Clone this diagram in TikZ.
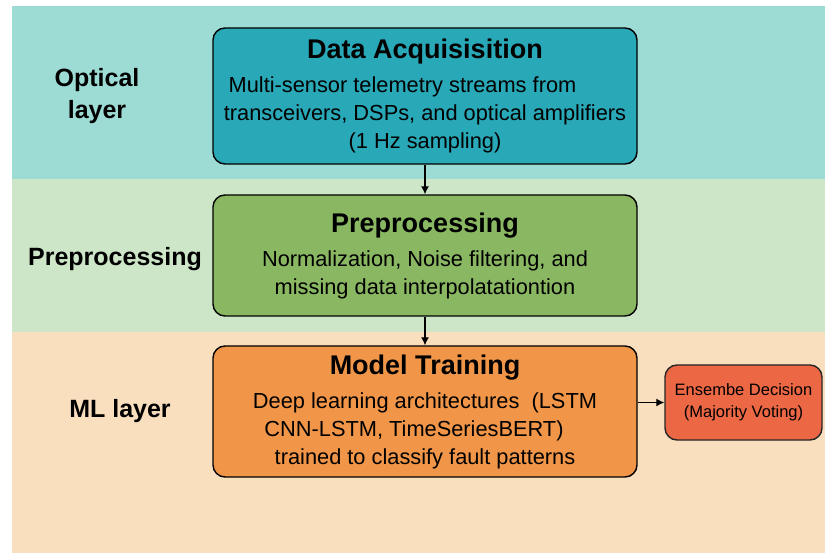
\documentclass[tikz,border=0pt]{standalone}
\usepackage{fontspec}
\setmainfont{Liberation Sans}
\usetikzlibrary{arrows.meta,positioning}
\definecolor{OpticalBand}{RGB}{157,220,213}
\definecolor{PrepBand}{RGB}{206,230,200}
\definecolor{MLBand}{RGB}{250,223,190}
\definecolor{AcqFill}{RGB}{41,168,184}
\definecolor{PrepFill}{RGB}{138,184,98}
\definecolor{TrainFill}{RGB}{241,150,72}
\definecolor{VoteFill}{RGB}{236,103,68}
\newcommand{\stagetitle}[1]{{\fontsize{27}{31}\selectfont\bfseries #1}\\[6pt]}
\newcommand{\padline}[2]{\hbox{#1\kern #2}}
\tikzset{
  >=Latex,
  stage/.style={draw=black,line width=1.4pt,rounded corners=12pt,align=center,text=black,font=\fontsize{21.8}{28}\selectfont,minimum width=424pt,inner sep=0pt},
  vote/.style={draw=black!85,line width=1.4pt,rounded corners=12pt,fill=VoteFill,align=center,text=black,font=\fontsize{16.5}{22}\selectfont,minimum width=157pt,minimum height=75pt,inner sep=0pt},
  layerlabel/.style={font=\fontsize{25}{32}\selectfont\bfseries,text=black,align=center},
  link/.style={-{Latex[length=8pt,width=8pt]},line width=1.2pt,draw=black}
}

\begin{document}
\begin{tikzpicture}[x=1pt,y=-1pt]
  \useasboundingbox (0,0) rectangle (825,553);
  \fill[white] (0,0) rectangle (825,553);
  % layer bands
  \fill[OpticalBand] (12,6) rectangle (825,179);
  \fill[PrepBand] (12,179) rectangle (825,332);
  \fill[MLBand] (12,332) rectangle (825,553);
  \node[layerlabel] (optlbl) at (97,96) {Optical\\layer};
  \node[layerlabel] (preplbl) at (115,259) {Preprocessing};
  \node[layerlabel] (mllbl) at (120,411) {ML layer};
  % pipeline
  \node[stage,fill=AcqFill,minimum height=136pt] (acq) at (425,96) {\stagetitle{Data Acquisisition}\padline{Multi-sensor telemetry streams from}{45pt}\\transceivers, DSPs, and optical amplifiers\\(1 Hz sampling)};
  \node[stage,fill=PrepFill,minimum height=121pt] (prep) at (425,255.5) {\stagetitle{Preprocessing}Normalization, Noise filtering, and\\missing data interpolatationtion};
  \node[stage,fill=TrainFill,minimum height=131pt] (train) at (425,411.5) {\stagetitle{Model Training}Deep learning architectures\ \ (LSTM\\\padline{CNN-LSTM, TimeSeriesBERT)}{22pt}\\trained to classify fault patterns};
  \node[vote] (vote) at (743.5,402.5) {Ensembe Decision\\(Majority Voting)};
  \draw[link] (acq) -- (prep);
  \draw[link] (prep) -- (train);
  \draw[link] (train.east |- vote.west) -- (vote.west);
\end{tikzpicture}
\end{document}
